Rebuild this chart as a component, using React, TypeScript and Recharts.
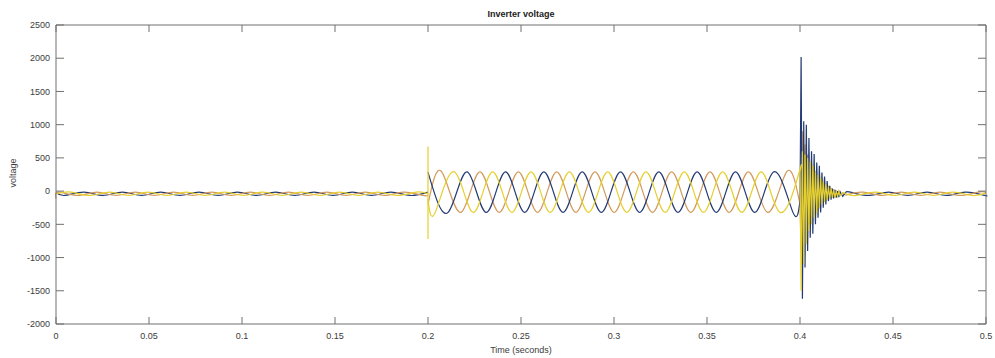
import { LineChart, Line, XAxis, YAxis } from "recharts";

const xTicks = [0, 0.05, 0.1, 0.15, 0.2, 0.25, 0.3, 0.35, 0.4, 0.45, 0.5];
const yTicks = [-2000, -1500, -1000, -500, 0, 500, 1000, 1500, 2000, 2500];

// small ripple before the inverter starts (0 .. 0.2 s)
const bluePreT = [0, 0.0048, 0.0151, 0.0254, 0.0357, 0.046, 0.0563, 0.0666, 0.0769, 0.0872, 0.0975, 0.1078, 0.1181, 0.1284, 0.1387, 0.149, 0.1593, 0.1696, 0.1799, 0.1902, 0.2];
const bluePreV = [-20, -65, -15, -65, -15, -65, -15, -65, -15, -65, -15, -65, -15, -65, -15, -65, -15, -65, -15, -65, -16];
const orangePreT = [0, 0.0014, 0.0117, 0.022, 0.0323, 0.0426, 0.0529, 0.0632, 0.0735, 0.0838, 0.0941, 0.1044, 0.1147, 0.125, 0.1353, 0.1456, 0.1559, 0.1662, 0.1765, 0.1868, 0.1971, 0.2];
const orangePreV = [-110, -15, -65, -15, -65, -15, -65, -15, -65, -15, -65, -15, -65, -15, -65, -15, -65, -15, -65, -15, -65, -60];
const yellowPreT = [0, 0.0082, 0.0185, 0.0288, 0.0391, 0.0494, 0.0597, 0.07, 0.0803, 0.0906, 0.1009, 0.1112, 0.1215, 0.1318, 0.1421, 0.1524, 0.1627, 0.173, 0.1833, 0.1936, 0.2];
const yellowPreV = [-40, -15, -65, -15, -65, -15, -65, -15, -65, -15, -65, -15, -65, -15, -65, -15, -65, -15, -65, -15, -40];

// switching spike at 0.2 s
const spikeT = [0.2, 0.2, 0.2, 0.2];
const spikeV = [-40, 670, -720, -120];

// three-phase output (0.2 .. 0.4 s)
const blueMainT = [0.2, 0.2108, 0.2211, 0.2314, 0.2417, 0.252, 0.2623, 0.2726, 0.2829, 0.2932, 0.3035, 0.3138, 0.3241, 0.3344, 0.3447, 0.355, 0.3653, 0.3756, 0.3859, 0.3962, 0.4];
const blueMainV = [285, -320, 290, -320, 290, -320, 290, -320, 290, -320, 290, -320, 290, -320, 290, -320, 290, -320, 290, -320, -140];
const orangeMainT = [0.2, 0.2074, 0.2177, 0.228, 0.2383, 0.2486, 0.2589, 0.2692, 0.2795, 0.2898, 0.3001, 0.3104, 0.3207, 0.331, 0.3413, 0.3516, 0.3619, 0.3722, 0.3825, 0.3928, 0.4];
const orangeMainV = [-200, 290, -320, 290, -320, 290, -320, 290, -320, 290, -320, 290, -320, 290, -320, 290, -320, 290, -320, 290, -200];
const yellowMainT = [0.2, 0.2039, 0.2142, 0.2245, 0.2348, 0.2451, 0.2554, 0.2657, 0.276, 0.2863, 0.2966, 0.3069, 0.3172, 0.3275, 0.3378, 0.3481, 0.3584, 0.3687, 0.379, 0.3893, 0.3996, 0.4];
const yellowMainV = [-120, -320, 290, -320, 290, -320, 290, -320, 290, -320, 290, -320, 290, -320, 290, -320, 290, -320, 290, -320, 290, 288];

// fault transient at 0.4 s
const transT = [0.4, 0.4006, 0.4013, 0.402, 0.4027, 0.4034, 0.4041, 0.4048, 0.4055, 0.4062, 0.4069, 0.4076, 0.4083, 0.409, 0.4097, 0.4104, 0.4111, 0.4118, 0.4125, 0.4132, 0.4139, 0.4146, 0.4153, 0.416, 0.4167, 0.4174, 0.4181, 0.4188, 0.4195, 0.4202, 0.4209, 0.4216, 0.423, 0.4245];
const blueTransV = [-140, 2020, -1620, 1050, -1150, 1000, -900, 800, -700, 600, -640, 560, -500, 430, -400, 380, -320, 280, -250, 220, -200, 150, -150, 80, -130, 40, -110, 20, -100, 0, -90, -10, -80, -20];
const orangeTransV = [-200, -900, 900, -700, 700, -600, 550, -500, 450, -420, 380, -350, 300, -280, 250, -230, 200, -180, 150, -150, 110, -120, 80, -100, 50, -90, 30, -80, 10, -70, 0, -60, -30, -60];
const yellowTransV = [288, -1500, 600, -1100, 550, -800, 500, -600, 450, -500, 380, -400, 300, -330, 250, -260, 200, -200, 150, -160, 110, -130, 70, -110, 40, -100, 20, -90, 0, -80, -10, -70, -20, -40];

// ripple after the fault (0.4245 .. 0.5 s)
const bluePostT = [0.4245, 0.4271, 0.4374, 0.4477, 0.458, 0.4683, 0.4786, 0.4889, 0.4992, 0.5];
const bluePostV = [-20, -15, -65, -15, -65, -15, -65, -15, -65, -64];
const orangePostT = [0.4245, 0.434, 0.4443, 0.4546, 0.4649, 0.4752, 0.4855, 0.4958, 0.5];
const orangePostV = [-60, -15, -65, -15, -65, -15, -65, -15, -20];
const yellowPostT = [0.4245, 0.4305, 0.4408, 0.4511, 0.4614, 0.4717, 0.482, 0.4923, 0.5];
const yellowPostV = [-40, -65, -15, -65, -15, -65, -15, -65, -30];

const BLUE = "#243a73";
const ORANGE = "#d39a5c";
const YELLOW = "#e5cf2e";
const AXIS = "#707070";
const TXT = "#3c3c3c";
const FONT = "'Liberation Sans', Arial, sans-serif";

// plot box (matches chart margins + axis sizes below)
const BOX = { left: 56, right: 986, top: 25, bottom: 324 };

type Pt = { t: number; v: number };
function pts(ts: number[], vs: number[]): Pt[] {
  return ts.map((t, i) => ({ t, v: vs[i] }));
}

const series = [
  { key: "b-pre", color: BLUE, type: "natural", data: pts(bluePreT, bluePreV) },
  { key: "b-post", color: BLUE, type: "natural", data: pts(bluePostT, bluePostV) },
  { key: "o-pre", color: ORANGE, type: "natural", data: pts(orangePreT, orangePreV) },
  { key: "o-main", color: ORANGE, type: "natural", data: pts(orangeMainT, orangeMainV) },
  { key: "o-trans", color: ORANGE, type: "linear", data: pts(transT, orangeTransV) },
  { key: "o-post", color: ORANGE, type: "natural", data: pts(orangePostT, orangePostV) },
  { key: "b-main", color: BLUE, type: "natural", data: pts(blueMainT, blueMainV) },
  { key: "b-trans", color: BLUE, type: "linear", data: pts(transT, blueTransV) },
  { key: "y-pre", color: YELLOW, type: "natural", data: pts(yellowPreT, yellowPreV) },
  { key: "y-spike", color: YELLOW, type: "linear", data: pts(spikeT, spikeV) },
  { key: "y-main", color: YELLOW, type: "natural", data: pts(yellowMainT, yellowMainV) },
  { key: "y-trans", color: YELLOW, type: "linear", data: pts(transT, yellowTransV) },
  { key: "y-post", color: YELLOW, type: "natural", data: pts(yellowPostT, yellowPostV) },
];

const fmtX = (v: number) => (v === 0 ? "0" : String(+v.toFixed(2)));

// matlab style: labels outside, little tick marks pointing in on both opposite sides
function XTick(props: any) {
  const { x, y, payload } = props;
  return (
    <g>
      <line x1={x} x2={x} y1={BOX.bottom} y2={BOX.bottom - 7} stroke={AXIS} />
      <line x1={x} x2={x} y1={BOX.top} y2={BOX.top + 7} stroke={AXIS} />
      <text x={x} y={y} dy="0.71em" textAnchor="middle" fontSize={9} fill={TXT} fontFamily={FONT}>
        {fmtX(payload.value)}
      </text>
    </g>
  );
}

function YTick(props: any) {
  const { x, y, payload } = props;
  return (
    <g>
      <line x1={BOX.left} x2={BOX.left + 8} y1={y} y2={y} stroke={AXIS} />
      <line x1={BOX.right - 8} x2={BOX.right} y1={y} y2={y} stroke={AXIS} />
      <text x={x} y={y} dy="0.355em" textAnchor="end" fontSize={9} fill={TXT} fontFamily={FONT}>
        {payload.value}
      </text>
    </g>
  );
}

export default function App() {
  const xCommon = { type: "number" as const, dataKey: "t", domain: [0, 0.5], ticks: xTicks, interval: 0 as const };
  const yCommon = { type: "number" as const, domain: [-2000, 2500], ticks: yTicks, interval: 0 as const };
  return (
    <div style={{ position: "absolute", left: 0, top: 0, width: 995, height: 358, background: "#fff", fontFamily: FONT }}>
      <LineChart width={995} height={358} margin={{ top: 25, right: 9, bottom: 0, left: 0 }}>
        <XAxis xAxisId={0} {...xCommon} height={34} tickLine={false} tickSize={0} tickMargin={9} axisLine={{ stroke: AXIS }} tick={<XTick />} />
        <YAxis yAxisId={0} {...yCommon} width={56} tickLine={false} tickSize={0} tickMargin={6} axisLine={{ stroke: AXIS }} tick={<YTick />} />
        {/* top and right edges of the box */}
        <XAxis xAxisId="tm" {...xCommon} orientation="top" mirror height={1} tick={false} tickLine={false} axisLine={{ stroke: AXIS }} />
        <YAxis yAxisId="rm" {...yCommon} orientation="right" mirror width={1} tick={false} tickLine={false} axisLine={{ stroke: AXIS }} />
        {series.map((s) => (
          <Line
            key={s.key}
            xAxisId={0}
            yAxisId={0}
            data={s.data}
            dataKey="v"
            type={s.type as "natural" | "linear"}
            stroke={s.color}
            strokeWidth={1.2}
            dot={false}
            activeDot={false}
            isAnimationActive={false}
            legendType="none"
          />
        ))}
      </LineChart>
      <div style={{ position: "absolute", left: 421, width: 200, top: 9, textAlign: "center", fontSize: 9, fontWeight: "bold", color: "#222" }}>
        Inverter voltage
      </div>
      <div style={{ position: "absolute", left: 421, width: 200, top: 345, textAlign: "center", fontSize: 9, color: TXT }}>
        Time (seconds)
      </div>
      <div
        style={{
          position: "absolute",
          left: 13,
          top: 173,
          transform: "translate(-50%, -50%) rotate(-90deg)",
          fontSize: 9,
          color: TXT,
          whiteSpace: "nowrap",
        }}
      >
        voltage
      </div>
    </div>
  );
}
